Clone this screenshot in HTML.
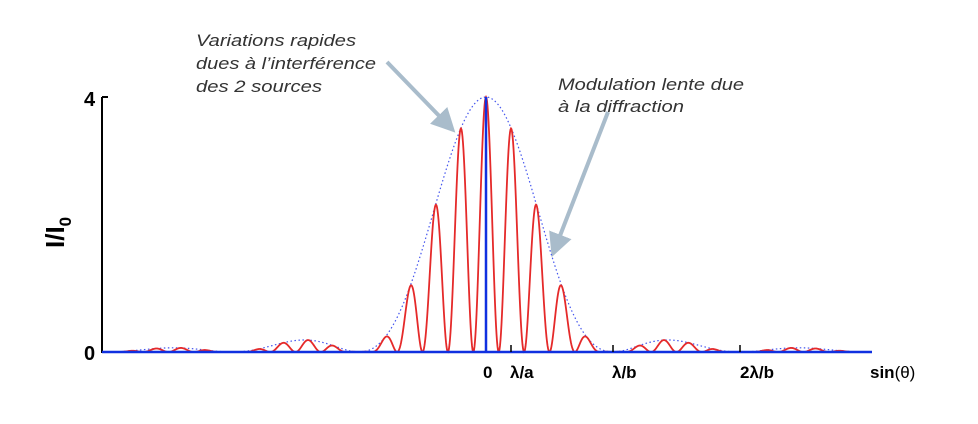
<!DOCTYPE html><html><head><style>body{margin:0;background:#fff}svg{display:block}</style></head><body>
<svg id="s" width="978" height="424" xmlns="http://www.w3.org/2000/svg" font-family="Liberation Sans, sans-serif">
<defs><marker id="ah" markerWidth="6" markerHeight="6" refX="3" refY="3" orient="auto"><path d="M0,0 L6,3 L0,6 Z" fill="#a9bccb"/></marker></defs>
<line x1="387" y1="62" x2="447" y2="124" stroke="#a9bccb" stroke-width="4" marker-end="url(#ah)"/>
<line x1="608" y1="112" x2="556" y2="246" stroke="#a9bccb" stroke-width="4" marker-end="url(#ah)"/>
<g font-style="italic" font-size="17" fill="#333">
<text x="196" y="46" textLength="160" lengthAdjust="spacingAndGlyphs">Variations rapides</text>
<text x="196" y="69" textLength="180" lengthAdjust="spacingAndGlyphs">dues à l’interférence</text>
<text x="196" y="92" textLength="126" lengthAdjust="spacingAndGlyphs">des 2 sources</text>
<text x="558" y="90" textLength="186" lengthAdjust="spacingAndGlyphs">Modulation lente due</text>
<text x="558" y="112" textLength="126" lengthAdjust="spacingAndGlyphs">à la diffraction</text>
</g>
<path id="env" fill="none" stroke="#4455ee" stroke-width="1.2" stroke-dasharray="1.5,2.5"/>
<path id="cur" fill="none" stroke="#e52a2a" stroke-width="1.8"/>
<line x1="102" y1="97" x2="102" y2="353" stroke="#000" stroke-width="2"/>
<line x1="102" y1="97" x2="108" y2="97" stroke="#000" stroke-width="2"/>
<line x1="102" y1="352" x2="872" y2="352" stroke="#1030e0" stroke-width="2.5"/>
<line x1="486" y1="97" x2="486" y2="352" stroke="#1030e0" stroke-width="2.5"/>
<g stroke="#000" stroke-width="1.5"><line x1="511" y1="345" x2="511" y2="352"/><line x1="613" y1="345" x2="613" y2="352"/><line x1="740" y1="345" x2="740" y2="352"/></g>
<g font-weight="bold" font-size="17" fill="#000">
<text x="84" y="106" font-size="20">4</text><text x="84" y="360" font-size="20">0</text>
<text x="483" y="378">0</text><text x="510" y="378">λ/a</text><text x="612" y="378">λ/b</text><text x="740" y="378">2λ/b</text><text x="870" y="378">sin<tspan font-weight="normal">(θ)</tspan></text>
<text transform="translate(64,248) rotate(-90)" font-size="26">I/I<tspan font-size="17" dy="7">0</tspan></text>
</g>
</svg>
<script>
var c=486,W=127,P=25.4,H=255/4,y0=352,e="",r="";
for(var x=120;x<=862;x+=0.5){var u=Math.PI*(x-c)/W;var s=Math.abs(u)<1e-6?1:Math.pow(Math.sin(u)/u,2);
var i=4*s*Math.pow(Math.cos(Math.PI*(x-c)/P),2);
e+=(e?"L":"M")+x+","+(y0-4*s*H).toFixed(2);r+=(r?"L":"M")+x+","+(y0-i*H).toFixed(2);}
document.getElementById("env").setAttribute("d",e);document.getElementById("cur").setAttribute("d",r);
</script>
</body></html>
